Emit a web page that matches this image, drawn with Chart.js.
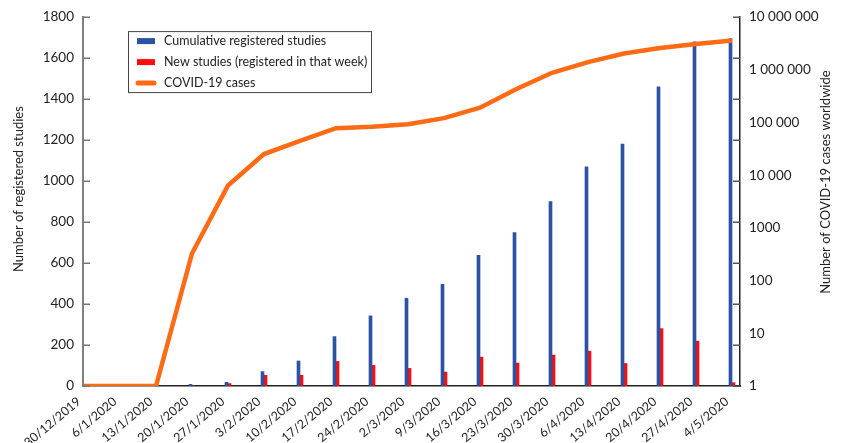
<!DOCTYPE html>
<html>
<head>
<meta charset="utf-8">
<script src="https://cdn.jsdelivr.net/npm/chart.js@4"></script>
<style>
html, body { margin: 0; padding: 0; background: #fff; }
#wrap { width: 843px; height: 443px; }
</style>
</head>
<body>
<div id="wrap"><canvas id="myChart"></canvas></div>
<script>
const weeks = ['30/12/2019', '6/1/2020', '13/1/2020', '20/1/2020', '27/1/2020', '3/2/2020', '10/2/2020',
    '17/2/2020', '24/2/2020', '2/3/2020', '9/3/2020', '16/3/2020', '23/3/2020', '30/3/2020', '6/4/2020',
    '13/4/2020', '20/4/2020', '27/4/2020', '4/5/2020'];
const cumulative = [0, 0, 0, 8, 18, 70, 122, 241, 342, 428, 496, 637, 749, 900, 1070, 1180, 1460, 1679, 1695];
const newStudies = [0, 0, 0, 0, 12, 52, 52, 120, 101, 86, 68, 141, 112, 151, 170, 110, 280, 219, 16];
const covidCases = [1, 1, 1, 327, 6370, 25200, 45000, 78200, 82800, 93000, 121000, 191000, 426000,
    877000, 1400000, 2040000, 2600000, 3090000, 3590000];
const leftTicks = [0, 200, 400, 600, 800, 1000, 1200, 1400, 1600, 1800];
const rightTicks = [1, 10, 100, 1000, 10000, 100000, 1000000, 10000000];

const FONT = 'Lato';
const INK = '#222';

function fmtCases(v) {
    const n = Math.round(v);
    if (n < 10000) return String(n);
    return String(n).replace(/\B(?=(\d{3})+(?!\d))/g, ' ');
}

const extras = {
    id: 'extras',
    afterDraw(chart) {
        const ctx = chart.ctx;
        const a = chart.chartArea;
        const yl = chart.scales.y;
        ctx.save();

        // inward tick marks; the right axis marks sit level with the left ones
        ctx.lineWidth = 1.5;
        leftTicks.forEach(v => {
            const py = Math.round(yl.getPixelForValue(v)) + 0.25;
            ctx.strokeStyle = '#777';
            ctx.beginPath(); ctx.moveTo(a.left, py); ctx.lineTo(a.left + 7, py); ctx.stroke();
            ctx.strokeStyle = '#555';
            ctx.beginPath(); ctx.moveTo(a.right - 7, py); ctx.lineTo(a.right, py); ctx.stroke();
        });

        ctx.fillStyle = INK;
        ctx.font = '13px ' + FONT;
        ctx.textAlign = 'center';
        ctx.textBaseline = 'middle';

        ctx.save();
        ctx.translate(19, a.top + 172);
        ctx.rotate(-Math.PI / 2);
        ctx.fillText('Number of registered studies', 0, 0);
        ctx.restore();

        ctx.save();
        ctx.translate(826, a.top + 165);
        ctx.rotate(-Math.PI / 2);
        ctx.fillText('Number of COVID-19 cases worldwide', 0, 0);
        ctx.restore();

        // legend box
        const bx = a.left + 45, by = a.top + 14, bw = 243, bh = 61;
        ctx.strokeStyle = '#444';
        ctx.lineWidth = 1;
        ctx.strokeRect(bx + 0.5, by + 0.5, bw, bh);
        ctx.textAlign = 'left';
        ctx.font = '12.5px ' + FONT;
        chart.data.datasets.forEach((ds, i) => {
            const cy = by + 10 + i * 21;
            if (ds.type === 'line') {
                ctx.strokeStyle = ds.borderColor;
                ctx.lineWidth = 5;
                ctx.lineCap = 'round';
                ctx.beginPath();
                ctx.moveTo(bx + 10, cy);
                ctx.lineTo(bx + 26, cy);
                ctx.stroke();
            } else {
                ctx.fillStyle = ds.backgroundColor;
                ctx.fillRect(bx + 9, cy - 3, 18, 6);
            }
            ctx.fillStyle = INK;
            ctx.fillText(ds.label, bx + 36, cy);
        });
        ctx.restore();
    }
};

const ctx = document.getElementById('myChart');

new Chart(ctx, {
    type: 'bar',
    data: {
        datasets: [{
            label: 'Cumulative registered studies',
            data: cumulative.map((v, i) => ({ x: i, y: v })),
            backgroundColor: '#2C52A3',
            barThickness: 3,
            yAxisID: 'y',
            order: 1
        }, {
            label: 'New studies (registered in that week)',
            data: newStudies.map((v, i) => ({ x: i, y: v })),
            backgroundColor: '#FF0D0D',
            barThickness: 3,
            yAxisID: 'y',
            order: 1
        }, {
            type: 'line',
            label: 'COVID-19 cases',
            data: covidCases.map((v, i) => ({ x: i, y: v })),
            borderColor: '#FF6A14',
            borderWidth: 4.5,
            pointRadius: 0,
            tension: 0,
            yAxisID: 'y1',
            order: 0
        }]
    },
    options: {
        responsive: true,
        maintainAspectRatio: false,
        animation: false,
        layout: { padding: { top: 10, left: 0, right: 0, bottom: 0 } },
        plugins: {
            legend: { display: false },
            tooltip: { enabled: false }
        },
        scales: {
            x: {
                type: 'linear',
                min: -1 / 36,
                max: -1 / 36 + 657 / 36,
                offset: false,
                afterBuildTicks: s => { s.ticks = weeks.map((w, i) => ({ value: i })); },
                afterFit: s => { s.height = 57; },
                ticks: {
                    autoSkip: false,
                    minRotation: 40,
                    maxRotation: 40,
                    padding: 8,
                    labelOffset: -5,
                    color: INK,
                    font: { family: FONT, size: 12.5 },
                    callback: v => weeks[v] ?? ''
                },
                grid: { drawOnChartArea: false, drawTicks: false },
                border: { color: '#222', width: 1.5 }
            },
            y: {
                position: 'left',
                min: 0,
                max: 1800,
                afterBuildTicks: s => { s.ticks = leftTicks.map(v => ({ value: v })); },
                afterFit: s => { s.width = 83; },
                ticks: {
                    padding: 9,
                    color: INK,
                    font: { family: FONT, size: 13.5 },
                    callback: v => String(v)
                },
                grid: { drawOnChartArea: false, drawTicks: false },
                border: { color: '#808080', width: 2 }
            },
            y1: {
                type: 'logarithmic',
                position: 'right',
                min: 1,
                max: 10000000,
                afterBuildTicks: s => { s.ticks = rightTicks.map(v => ({ value: v })); },
                afterFit: s => { s.width = 103; },
                ticks: {
                    autoSkip: false,
                    padding: 9,
                    color: INK,
                    font: { family: FONT, size: 13.5 },
                    callback: v => fmtCases(v)
                },
                grid: { drawOnChartArea: false, drawTicks: false },
                border: { color: '#222', width: 1.5 }
            }
        }
    },
    plugins: [extras]
});
</script>
</body>
</html>
